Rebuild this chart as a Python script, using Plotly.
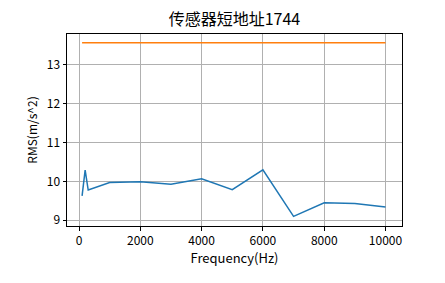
import plotly.graph_objects as go

freq = [100, 200, 300, 1000, 2000, 3000, 4000, 5000, 6000, 7000, 8000, 9000, 10000]
rms = [9.63, 10.29, 9.78, 9.97, 9.99, 9.93, 10.07, 9.79, 10.30, 9.10, 9.45, 9.43, 9.34]
limit_x = [100, 10000]
limit_y = [13.57, 13.57]
title = "传感器短地址1744"
x_ticks = [0, 2000, 4000, 6000, 8000, 10000]
x_tick_labels = ["0", "2000", "4000", "6000", "8000", "10000"]
y_ticks = [9, 10, 11, 12, 13]
y_tick_labels = ["9", "10", "11", "12", "13"]

font = "Noto Sans CJK SC, DejaVu Sans, sans-serif"

fig = go.Figure()
fig.add_trace(go.Scatter(x=freq, y=rms, mode="lines",
                         line=dict(color="#1f77b4", width=1.5), showlegend=False))
fig.add_trace(go.Scatter(x=limit_x, y=limit_y, mode="lines",
                         line=dict(color="#ff7f0e", width=1.5), showlegend=False))

axis_common = dict(showline=True, linecolor="black", linewidth=1, mirror=True,
                   ticks="outside", ticklen=3.5, tickcolor="black",
                   showgrid=True, gridcolor="#b0b0b0", gridwidth=1,
                   zeroline=False, tickfont=dict(size=12, color="black", family=font))

fig.update_layout(
    width=445, height=283,
    margin=dict(l=67, r=43, t=34, b=57),
    paper_bgcolor="white", plot_bgcolor="white",
    title=dict(text=title, x=(67 + 402) / 2 / 445, xanchor="center",
               y=1 - 19 / 283, yanchor="middle",
               font=dict(size=16, color="black", family=font)),
    font=dict(family=font, color="black"),
    xaxis=dict(range=[-392, 10538], tickvals=x_ticks, ticktext=x_tick_labels,
               title=dict(text="Frequency(Hz)", font=dict(size=13, family=font), standoff=5),
               **axis_common),
    yaxis=dict(range=[8.853, 13.797], tickvals=y_ticks, ticktext=y_tick_labels,
               title=dict(text="RMS(m/s^2)", font=dict(size=12, family=font), standoff=6),
               **axis_common),
)

fig.write_html("out.html")
